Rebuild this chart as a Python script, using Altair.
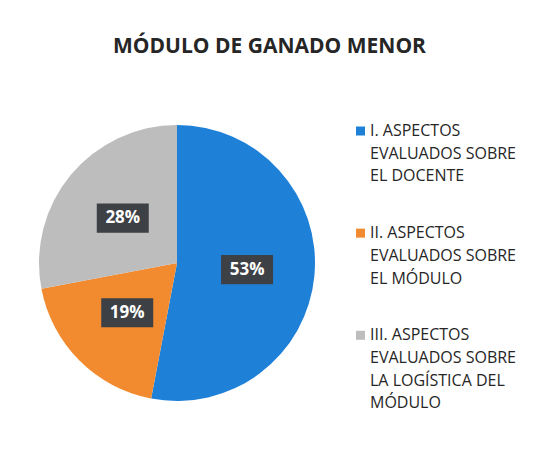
import altair as alt
import pandas as pd

# ---- datos ----
categorias = [
    "I. ASPECTOS EVALUADOS SOBRE EL DOCENTE",
    "II. ASPECTOS EVALUADOS SOBRE EL MÓDULO",
    "III. ASPECTOS EVALUADOS SOBRE LA LOGÍSTICA DEL MÓDULO",
]
lineas_leyenda = [
    ["I. ASPECTOS", "EVALUADOS SOBRE", "EL DOCENTE"],
    ["II. ASPECTOS", "EVALUADOS SOBRE", "EL MÓDULO"],
    ["III. ASPECTOS", "EVALUADOS SOBRE", "LA LOGÍSTICA DEL", "MÓDULO"],
]
porcentajes = [53, 19, 28]
orden = [1, 2, 3]
colores = ["#1f80d8", "#f28a2f", "#bdbdbd"]
titulo = "MÓDULO DE GANADO MENOR"

df = pd.DataFrame({"categoria": categorias, "valor": porcentajes, "orden": orden})

# filas de la leyenda (una por línea de texto)
filas = []
n = 0
for i, (cat, lineas) in enumerate(zip(categorias, lineas_leyenda)):
    for j, txt in enumerate(lineas):
        filas.append({"categoria": cat, "texto": txt, "primera": j == 0,
                      "pos": n + i * 1.5})
        n += 1
df_ley = pd.DataFrame(filas)

color_scale = alt.Scale(domain=categorias, range=colores)

base = alt.Chart(df)

pie = base.mark_arc().encode(
    theta=alt.Theta("valor:Q", stack=True),
    color=alt.Color("categoria:N", scale=color_scale, sort=categorias, legend=None),
    order=alt.Order("orden:Q"),
)

etiquetas = (
    base.transform_window(
        acum="sum(valor)",
        sort=[alt.SortField(field="orden", order="ascending")],
        frame=[None, 0],
    )
    .transform_joinaggregate(total="sum(valor)")
    .transform_calculate(
        ang="(datum.acum - datum.valor/2) / datum.total * 2 * PI",
        px="0.51 * sin(datum.ang)",
        py="0.51 * cos(datum.ang)",
        texto="datum.valor + '%'",
    )
)

xs = alt.X("px:Q", scale=alt.Scale(domain=[-1, 1], nice=False, zero=False), axis=None)
ys = alt.Y("py:Q", scale=alt.Scale(domain=[-1, 1], nice=False, zero=False), axis=None)

cajas = etiquetas.mark_point(
    shape="M-1,-0.56L1,-0.56L1,0.56L-1,0.56Z",
    filled=True,
    size=2704,
    color="#3d4045",
    opacity=1,
).encode(x=xs, y=ys)

textos = etiquetas.mark_text(
    font="Open Sans", fontSize=17, fontWeight="bold", color="white"
).encode(x=xs, y=ys, text="texto:N")

pie_chart = alt.layer(pie, cajas, textos).properties(width=276, height=276)

# ---- leyenda manual ----
LH = 22.7
ALT_LEY = 290
ly = alt.Y(
    "pos:Q",
    scale=alt.Scale(domain=[-6 / LH, (ALT_LEY - 6) / LH], reverse=True, nice=False, zero=False),
    axis=None,
)
ley_base = alt.Chart(df_ley)
ley_sim = ley_base.transform_filter("datum.primera").mark_square(size=81, opacity=1).encode(
    x=alt.value(4.5),
    y=ly,
    color=alt.Color("categoria:N", scale=color_scale, sort=categorias, legend=None),
)
ley_txt = ley_base.mark_text(
    font="Open Sans", fontSize=16, color="#262626", align="left", baseline="middle"
).encode(x=alt.value(14), y=ly, text="texto:N")

leyenda = alt.layer(ley_sim, ley_txt).properties(width=160, height=ALT_LEY)

chart = (
    alt.hconcat(pie_chart, leyenda, spacing=41)
    .properties(
        title=alt.TitleParams(
            text=titulo,
            font="Open Sans",
            fontSize=21,
            fontWeight="bold",
            color="#262626",
            anchor="middle",
            offset=66,
            dx=-8,
        ),
        padding={"left": 31, "top": 28, "right": 5, "bottom": 5},
    )
    .configure_view(stroke=None)
)

chart.save("out.html", embed_options={"renderer": "svg", "actions": False})
